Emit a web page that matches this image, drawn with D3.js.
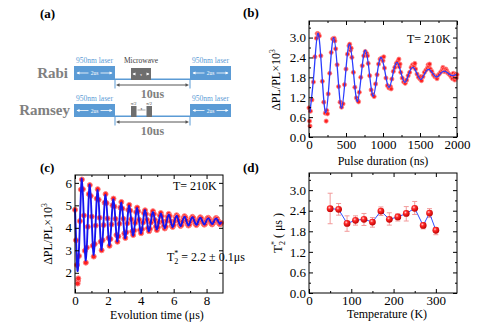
<!DOCTYPE html>
<html>
<head>
<meta charset="utf-8">
<script src="https://cdn.jsdelivr.net/npm/d3@7"></script>
<style>
body { margin: 0; background: #fff; }
svg { display: block; font-family: "Liberation Serif", "Times New Roman", serif; }
</style>
</head>
<body>
<svg id="fig" width="494" height="327"></svg>
<script>
// ---- (b) Rabi oscillation ----
var rabiTime = [0, 8, 14, 20, 40, 60, 80, 100, 110, 120, 130, 140, 160, 180, 200, 220, 232, 240, 250, 260,
  280, 300, 320, 340, 350, 360, 380, 400, 420, 440, 460, 480, 500, 520, 540, 550, 560, 570, 580, 600,
  620, 640, 660, 670, 680, 700, 720, 740, 760, 780, 790, 800, 820, 840, 860, 880, 900, 920, 940, 960,
  980, 1000, 1010, 1020, 1040, 1060, 1080, 1100, 1110, 1120, 1140, 1160, 1180, 1200, 1215, 1220, 1230, 1240, 1260, 1280,
  1300, 1310, 1320, 1340, 1360, 1380, 1400, 1410, 1420, 1430, 1440, 1460, 1480, 1500, 1510, 1520, 1540, 1560, 1580, 1600,
  1610, 1620, 1630, 1640, 1660, 1680, 1700, 1720, 1730, 1740, 1760, 1780, 1800, 1810, 1820, 1830, 1840, 1850, 1860, 1870,
  1880, 1900, 1920, 1940, 1950, 1960, 1970, 1980, 1990, 2000];
var rabiVal = [0.88, 0.48, 0.33, 0.78, 1.12, 1.66, 2.42, 2.98, 3.12, 3.12, 3.10, 3.05, 2.45, 1.68, 1.05, 0.72, 0.48, 0.80, 0.70, 1.30,
  1.92, 2.55, 2.96, 2.98, 2.90, 2.66, 2.18, 1.52, 1.05, 0.90, 1.00, 1.58, 2.05, 2.50, 2.75, 2.80, 2.62, 2.68, 2.40, 1.95,
  1.50, 1.18, 1.10, 1.06, 1.35, 1.80, 2.15, 2.45, 2.58, 2.52, 2.45, 2.22, 1.85, 1.42, 1.28, 1.22, 1.60, 1.88, 2.20, 2.35,
  2.38, 2.30, 2.42, 2.08, 1.78, 1.55, 1.48, 1.52, 1.45, 1.75, 1.98, 2.10, 2.22, 2.28, 2.35, 2.12, 2.20, 1.95, 1.78, 1.66,
  1.62, 1.70, 1.72, 1.85, 1.95, 2.10, 2.18, 2.12, 2.15, 2.22, 2.05, 1.90, 1.80, 1.75, 1.82, 1.70, 1.82, 1.95, 2.02, 2.08,
  2.18, 2.12, 2.20, 2.05, 1.98, 1.88, 1.82, 1.80, 1.76, 1.85, 1.90, 1.96, 2.02, 2.10, 2.05, 1.98, 1.97, 2.05, 2.00, 1.95,
  1.92, 1.88, 1.82, 1.76, 1.92, 1.85, 1.72, 1.90, 1.78, 1.88];
var rabiFitTime = [13, 67, 120, 174, 227, 281, 334, 388, 441, 495, 548, 602, 655, 709, 762, 816, 869, 923, 976, 1030,
  1083, 1137, 1190, 1244, 1297, 1351, 1404, 1458, 1511, 1565, 1618, 1672, 1725, 1779, 1832, 1886, 1939, 1993];
var rabiFitVal = [0.75, 1.93, 3.13, 1.93, 0.73, 1.93, 3.00, 1.93, 0.87, 1.93, 2.80, 1.93, 1.07, 1.93, 2.62, 1.93, 1.23, 1.93, 2.40, 1.93,
  1.50, 1.93, 2.25, 1.93, 1.65, 1.92, 2.10, 1.92, 1.74, 1.92, 2.04, 1.92, 1.81, 1.92, 1.99, 1.91, 1.85, 1.89];

// ---- (c) Ramsey fringes ----
var ramseyTime = [0, 0.06, 0.12, 0.18, 0.24, 0.30, 0.36,
  0.42, 0.48, 0.54, 0.60, 0.66, 0.72, 0.78, 0.84,
  0.90, 0.96, 1.02, 1.08, 1.14, 1.20, 1.26, 1.32,
  1.38, 1.44, 1.50, 1.56, 1.62, 1.68, 1.74, 1.80,
  1.86, 1.92, 1.98, 2.04, 2.10, 2.16, 2.22, 2.28,
  2.34, 2.40, 2.46, 2.52, 2.58, 2.64, 2.70, 2.76,
  2.82, 2.88, 2.94, 3.00, 3.06, 3.12, 3.18, 3.24,
  3.30, 3.36, 3.42, 3.48, 3.54, 3.60, 3.66, 3.72,
  3.78, 3.84, 3.90, 3.96, 4.02, 4.08, 4.14, 4.20,
  4.26, 4.32, 4.38, 4.44, 4.50, 4.56, 4.62, 4.68,
  4.74, 4.80, 4.86, 4.92, 4.98, 5.04, 5.10, 5.16,
  5.22, 5.28, 5.34, 5.40, 5.46, 5.52, 5.58, 5.64,
  5.70, 5.76, 5.82, 5.88, 5.94, 6.00, 6.06, 6.12,
  6.18, 6.24, 6.30, 6.36, 6.42, 6.48, 6.54, 6.60,
  6.66, 6.72, 6.78, 6.84, 6.90, 6.96, 7.02, 7.08,
  7.14, 7.20, 7.26, 7.32, 7.38, 7.44, 7.50, 7.56,
  7.62, 7.68, 7.74, 7.80, 7.86, 7.92, 7.98, 8.04,
  8.10, 8.16, 8.22, 8.28, 8.34, 8.40, 8.46, 8.52,
  8.58, 8.64, 8.70, 8.76, 8.82, 8.88, 0.16, 0.20];
var ramseyVal = [4.80, 3.45, 2.35, 1.65, 2.75, 4.30, 5.70,
  6.15, 5.72, 4.55, 2.98, 2.45, 3.12, 4.05, 5.50,
  5.90, 5.42, 4.50, 3.20, 2.72, 3.28, 4.10, 5.30,
  5.72, 5.25, 4.45, 3.38, 3.00, 3.45, 4.12, 5.12,
  5.50, 5.10, 4.42, 3.55, 3.20, 3.50, 4.15, 5.00,
  5.30, 4.95, 4.40, 3.68, 3.38, 3.62, 4.18, 4.90,
  5.15, 4.86, 4.40, 3.75, 3.55, 3.80, 4.20, 4.80,
  5.02, 4.77, 4.38, 3.84, 3.68, 3.88, 4.22, 4.70,
  4.90, 4.74, 4.36, 3.90, 3.76, 3.94, 4.24, 4.66,
  4.78, 4.62, 4.36, 3.98, 3.85, 3.95, 4.24, 4.58,
  4.74, 4.62, 4.35, 4.05, 3.90, 4.02, 4.25, 4.56,
  4.66, 4.52, 4.28, 4.08, 3.97, 4.05, 4.31, 4.50,
  4.62, 4.53, 4.29, 4.10, 4.04, 4.12, 4.30, 4.47,
  4.56, 4.50, 4.31, 4.15, 4.08, 4.12, 4.28, 4.44,
  4.52, 4.46, 4.32, 4.17, 4.10, 4.15, 4.29, 4.42,
  4.49, 4.44, 4.30, 4.18, 4.12, 4.19, 4.31, 4.40,
  4.47, 4.42, 4.28, 4.20, 4.14, 4.18, 4.31, 4.41,
  4.45, 4.39, 4.30, 4.20, 4.15, 4.21, 4.29, 4.38,
  4.44, 4.40, 4.31, 4.20, 4.16, 4.22, 1.52, 1.75];
var ramseyFitTime = [0, 0.08, 0.17, 0.30, 0.42, 0.54, 0.66, 0.78, 0.90, 1.02, 1.14, 1.26, 1.38, 1.50, 1.62, 1.74, 1.86, 1.98,
  2.10, 2.22, 2.34, 2.46, 2.58, 2.70, 2.82, 2.94, 3.06, 3.18, 3.30, 3.42, 3.54, 3.66, 3.78, 3.90, 4.02, 4.14,
  4.26, 4.38, 4.50, 4.62, 4.74, 4.86, 4.98, 5.10, 5.22, 5.34, 5.46, 5.58, 5.70, 5.82, 5.94, 6.06, 6.18, 6.30,
  6.42, 6.54, 6.66, 6.78, 6.90, 7.02, 7.14, 7.26, 7.38, 7.50, 7.62, 7.74, 7.86, 7.98, 8.10, 8.22, 8.34, 8.46,
  8.58, 8.70, 8.82, 8.90];
var ramseyFitVal = [4.85, 3.20, 2.10, 4.25, 6.20, 4.30, 2.55, 4.30, 5.92, 4.30, 2.80, 4.30, 5.68, 4.30, 3.02, 4.30, 5.46, 4.30,
  3.22, 4.30, 5.27, 4.30, 3.40, 4.30, 5.12, 4.30, 3.54, 4.30, 4.99, 4.30, 3.66, 4.30, 4.88, 4.30, 3.75, 4.30,
  4.79, 4.30, 3.84, 4.30, 4.71, 4.30, 3.92, 4.30, 4.64, 4.30, 3.98, 4.30, 4.59, 4.30, 4.03, 4.30, 4.54, 4.30,
  4.07, 4.30, 4.50, 4.30, 4.10, 4.30, 4.47, 4.30, 4.13, 4.30, 4.45, 4.30, 4.15, 4.30, 4.43, 4.30, 4.16, 4.30,
  4.42, 4.30, 4.17, 4.27];

// ---- (d) T2* vs temperature ----
var tempK = [50, 70, 90, 110, 130, 150, 170, 190, 210, 230, 250, 270, 285, 300];
var t2Star = [2.46, 2.44, 2.03, 2.12, 2.15, 2.07, 2.39, 2.15, 2.22, 2.32, 2.47, 1.97, 2.33, 1.83];
var t2Low = [2.02, 2.27, 1.80, 1.98, 1.97, 1.92, 2.26, 1.98, 2.10, 2.10, 2.29, 1.87, 2.20, 1.70];
var t2High = [2.91, 2.61, 2.25, 2.25, 2.32, 2.20, 2.51, 2.34, 2.31, 2.52, 2.67, 2.05, 2.46, 1.90];

var svg = d3.select("#fig");
var defs = svg.append("defs");
var grad = defs.append("radialGradient").attr("id", "ball")
  .attr("cx", "38%").attr("cy", "35%").attr("r", "65%");
grad.append("stop").attr("offset", "0%").attr("stop-color", "#ffd0d0");
grad.append("stop").attr("offset", "35%").attr("stop-color", "#ff2a2a");
grad.append("stop").attr("offset", "100%").attr("stop-color", "#c00000");

// frame with inward ticks on all four sides
function makePanel(o) {
  var x = d3.scaleLinear().domain(o.xd).range([o.left, o.right]);
  var y = d3.scaleLinear().domain(o.yd).range([o.bottom, o.top]);
  var g = svg.append("g");
  var axes = svg.append("g");

  function put(axis, tx, ty) {
    var a = axes.append("g").attr("transform", "translate(" + tx + "," + ty + ")").call(axis);
    a.select(".domain").remove();
    a.selectAll("line").attr("stroke", "#000");
    a.selectAll("text").attr("font-size", 13).attr("font-family", "Liberation Serif").attr("fill", "#000");
    return a;
  }
  put(d3.axisBottom(x).tickValues(o.xt).tickFormat(o.xf).tickSizeInner(-4).tickSizeOuter(0).tickPadding(3), 0, o.bottom);
  put(d3.axisTop(x).tickValues(o.xt).tickFormat("").tickSizeInner(-4).tickSizeOuter(0), 0, o.top);
  put(d3.axisLeft(y).tickValues(o.yt).tickFormat(o.yf).tickSizeInner(-4).tickSizeOuter(0).tickPadding(3), o.left, 0);
  put(d3.axisRight(y).tickValues(o.yt).tickFormat("").tickSizeInner(-4).tickSizeOuter(0), o.right, 0);
  if (o.xm) {
    put(d3.axisBottom(x).tickValues(o.xm).tickFormat("").tickSizeInner(-2).tickSizeOuter(0), 0, o.bottom);
    put(d3.axisTop(x).tickValues(o.xm).tickFormat("").tickSizeInner(-2).tickSizeOuter(0), 0, o.top);
  }
  if (o.ym) {
    put(d3.axisLeft(y).tickValues(o.ym).tickFormat("").tickSizeInner(-2).tickSizeOuter(0), o.left, 0);
    put(d3.axisRight(y).tickValues(o.ym).tickFormat("").tickSizeInner(-2).tickSizeOuter(0), o.right, 0);
  }
  axes.append("rect").attr("x", o.left).attr("y", o.top)
    .attr("width", o.right - o.left).attr("height", o.bottom - o.top)
    .attr("fill", "none").attr("stroke", "#000").attr("stroke-width", 1);
  return { g: g, x: x, y: y };
}

function yLabel(cx, cy, size) {
  var t = svg.append("text").attr("transform", "translate(" + cx + "," + cy + ") rotate(-90)")
    .attr("text-anchor", "middle").attr("font-size", size);
  t.append("tspan").text("ΔPL/PL×10");
  t.append("tspan").attr("font-size", size * 0.65).attr("dy", -size * 0.4).text("3");
}

// ---------- panel (b) ----------
var pb = makePanel({
  left: 309, right: 457, top: 21, bottom: 137,
  xd: [0, 2000], yd: [0, 3.5],
  xt: [0, 500, 1000, 1500, 2000], xf: d3.format("d"),
  xm: [250, 750, 1250, 1750],
  yt: [0, 0.6, 1.2, 1.8, 2.4, 3.0], yf: d3.format(".1f"),
  ym: [0.3, 0.9, 1.5, 2.1, 2.7, 3.3]
});
pb.g.selectAll("circle").data(rabiTime).enter().append("circle")
  .attr("cx", function (d) { return pb.x(d); })
  .attr("cy", function (d, i) { return pb.y(rabiVal[i]); })
  .attr("r", 2.1).attr("fill", "#ff2020").attr("stroke", "#ff8a8a").attr("stroke-width", 0.8);
pb.g.append("path").datum(rabiFitTime)
  .attr("fill", "none").attr("stroke", "#2a3cff").attr("stroke-width", 1.3)
  .attr("d", d3.line().curve(d3.curveNatural)
    .x(function (d) { return pb.x(d); })
    .y(function (d, i) { return pb.y(rabiFitVal[i]); }));
svg.append("text").attr("x", 407).attr("y", 43).attr("font-size", 12).text("T= 210K");
yLabel(280, 80, 12);
svg.append("text").attr("x", 383).attr("y", 165).attr("text-anchor", "middle").attr("font-size", 12).text("Pulse duration (ns)");

// ---------- panel (c) ----------
var pc = makePanel({
  left: 75, right: 223, top: 175, bottom: 293,
  xd: [0, 9], yd: [1.1, 6.35],
  xt: [0, 2, 4, 6, 8], xf: d3.format("d"),
  xm: [1, 3, 5, 7],
  yt: [2, 3, 4, 5, 6], yf: d3.format("d")
});
pc.g.selectAll("circle").data(ramseyTime).enter().append("circle")
  .attr("cx", function (d) { return pc.x(d); })
  .attr("cy", function (d, i) { return pc.y(ramseyVal[i]); })
  .attr("r", 2.5).attr("fill", "#ff2020").attr("stroke", "#ff8080").attr("stroke-width", 1);
pc.g.append("path").datum(ramseyFitTime)
  .attr("fill", "none").attr("stroke", "#1414f0").attr("stroke-width", 1.9)
  .attr("d", d3.line().curve(d3.curveNatural)
    .x(function (d) { return pc.x(d); })
    .y(function (d, i) { return pc.y(ramseyFitVal[i]); }));
svg.append("text").attr("x", 173).attr("y", 190).attr("font-size", 12).text("T= 210K");
var t2t = svg.append("text").attr("x", 167).attr("y", 261).attr("font-size", 12);
t2t.append("tspan").text("T");
t2t.append("tspan").attr("font-size", 8).attr("dy", 3).text("2");
t2t.append("tspan").attr("font-size", 8).attr("dx", -4).attr("dy", -8).text("*");
t2t.append("tspan").attr("dy", 5).text(" = 2.2 ± 0.1μs");
yLabel(52, 234, 12);
svg.append("text").attr("x", 157).attr("y", 319).attr("text-anchor", "middle").attr("font-size", 12).text("Evolution time (μs)");

// ---------- panel (d) ----------
var pd = makePanel({
  left: 309, right: 457, top: 173, bottom: 293,
  xd: [0, 350], yd: [0, 3.5],
  xt: [0, 100, 200, 300], xf: d3.format("d"),
  xm: [50, 150, 250],
  yt: [0, 0.6, 1.2, 1.8, 2.4, 3.0], yf: d3.format(".1f"),
  ym: [0.3, 0.9, 1.5, 2.1, 2.7, 3.3]
});
var eb = pd.g.selectAll("g.err").data(tempK).enter().append("g").attr("class", "err")
  .attr("stroke", "#f29a9a").attr("stroke-width", 1);
eb.append("line")
  .attr("x1", function (d) { return pd.x(d); }).attr("x2", function (d) { return pd.x(d); })
  .attr("y1", function (d, i) { return pd.y(t2Low[i]); })
  .attr("y2", function (d, i) { return pd.y(t2High[i]); });
eb.append("line")
  .attr("x1", function (d) { return pd.x(d) - 2.5; }).attr("x2", function (d) { return pd.x(d) + 2.5; })
  .attr("y1", function (d, i) { return pd.y(t2Low[i]); })
  .attr("y2", function (d, i) { return pd.y(t2Low[i]); });
eb.append("line")
  .attr("x1", function (d) { return pd.x(d) - 2.5; }).attr("x2", function (d) { return pd.x(d) + 2.5; })
  .attr("y1", function (d, i) { return pd.y(t2High[i]); })
  .attr("y2", function (d, i) { return pd.y(t2High[i]); });
pd.g.append("path").datum(tempK)
  .attr("fill", "none").attr("stroke", "#3050ff").attr("stroke-width", 1)
  .attr("d", d3.line()
    .x(function (d) { return pd.x(d); })
    .y(function (d, i) { return pd.y(t2Star[i]); }));
pd.g.selectAll("circle").data(tempK).enter().append("circle")
  .attr("cx", function (d) { return pd.x(d); })
  .attr("cy", function (d, i) { return pd.y(t2Star[i]); })
  .attr("r", 3.4).attr("fill", "url(#ball)");
var dl = svg.append("text").attr("transform", "translate(282,233) rotate(-90)")
  .attr("text-anchor", "middle").attr("font-size", 13);
dl.append("tspan").text("T");
dl.append("tspan").attr("font-size", 8).attr("dy", 3).text("2");
dl.append("tspan").attr("font-size", 8).attr("dx", -4).attr("dy", -8).text("*");
dl.append("tspan").attr("font-size", 12).attr("dy", 5).text(" (  μs  )");
svg.append("text").attr("x", 387).attr("y", 318).attr("text-anchor", "middle").attr("font-size", 12).text("Temperature (K)");

// ---------- panel labels ----------
[["(a)", 40, 18], ["(b)", 243, 17], ["(c)", 40, 172], ["(d)", 243, 172]].forEach(function (p) {
  svg.append("text").attr("x", p[1]).attr("y", p[2]).attr("font-size", 13).attr("font-weight", "bold").text(p[0]);
});

// ---------- panel (a): pulse sequences ----------
var blue = "#5b9bd5", grey = "#6e6e6e";
var seq = svg.append("g");
function whiteArrow(x1, x2, y, label, size) {
  var mid = (x1 + x2) / 2;
  seq.append("line").attr("x1", x1 + 1).attr("x2", mid - 6).attr("y1", y).attr("y2", y).attr("stroke", "#fff").attr("stroke-width", 0.8);
  seq.append("line").attr("x1", mid + 6).attr("x2", x2 - 1).attr("y1", y).attr("y2", y).attr("stroke", "#fff").attr("stroke-width", 0.8);
  seq.append("path").attr("d", "M" + (x1 + 0.5) + "," + y + "l3,-1.6v3.2z").attr("fill", "#fff");
  seq.append("path").attr("d", "M" + (x2 - 0.5) + "," + y + "l-3,-1.6v3.2z").attr("fill", "#fff");
  seq.append("text").attr("x", mid).attr("y", y + 2).attr("text-anchor", "middle").attr("font-size", size).attr("fill", "#fff").text(label);
}
function row(top, bottom, name, nameX, isRamsey) {
  seq.append("text").attr("x", nameX).attr("y", bottom - 2).attr("text-anchor", "end")
    .attr("font-size", 15).attr("font-weight", "bold").attr("fill", "#808080").text(name);
  [[74, 115], [190, 231]].forEach(function (b) {
    seq.append("rect").attr("x", b[0]).attr("y", top).attr("width", b[1] - b[0]).attr("height", bottom - top).attr("fill", blue);
    whiteArrow(b[0] + 2, b[1] - 2, (top + bottom) / 2, "2us", 5.5);
    seq.append("text").attr("x", (b[0] + b[1]) / 2).attr("y", top - 3).attr("text-anchor", "middle")
      .attr("font-size", 7.5).attr("fill", blue).text("950nm laser");
  });
  seq.append("line").attr("x1", 115).attr("x2", 190).attr("y1", bottom - 0.7).attr("y2", bottom - 0.7).attr("stroke", blue).attr("stroke-width", 1.4);
  if (!isRamsey) {
    seq.append("rect").attr("x", 131).attr("y", top + 2).attr("width", 20).attr("height", bottom - top - 2).attr("fill", grey);
    whiteArrow(132, 150, (top + bottom) / 2 + 1, "τ", 5);
    seq.append("text").attr("x", 141).attr("y", top - 3).attr("text-anchor", "middle").attr("font-size", 7.5).attr("fill", "#404040").text("Microwave");
  } else {
    [131, 146.5].forEach(function (px) {
      seq.append("rect").attr("x", px).attr("y", top + 2).attr("width", 5.5).attr("height", bottom - top - 2).attr("fill", grey);
      seq.append("text").attr("x", px + 2.7).attr("y", top + 0.5).attr("text-anchor", "middle").attr("font-size", 4.5).attr("fill", "#404040").text("π/2");
    });
    seq.append("line").attr("x1", 137.5).attr("x2", 145.5).attr("y1", top + 6).attr("y2", top + 6).attr("stroke", "#555").attr("stroke-width", 0.5);
    seq.append("text").attr("x", 141.5).attr("y", top + 5.5).attr("text-anchor", "middle").attr("font-size", 4.5).attr("fill", "#404040").text("τ");
  }
  // 10us span
  var ay = bottom + 5;
  seq.append("line").attr("x1", 115).attr("x2", 115).attr("y1", bottom).attr("y2", ay + 3.5).attr("stroke", blue).attr("stroke-width", 1);
  seq.append("line").attr("x1", 190).attr("x2", 190).attr("y1", bottom).attr("y2", ay + 3.5).attr("stroke", blue).attr("stroke-width", 1);
  seq.append("line").attr("x1", 118).attr("x2", 187).attr("y1", ay).attr("y2", ay).attr("stroke", "#555").attr("stroke-width", 1);
  seq.append("path").attr("d", "M116," + ay + "l3.5,-1.8v3.6z").attr("fill", "#555");
  seq.append("path").attr("d", "M189," + ay + "l-3.5,-1.8v3.6z").attr("fill", "#555");
  seq.append("text").attr("x", 152.5).attr("y", ay + 13).attr("text-anchor", "middle")
    .attr("font-size", 12).attr("font-weight", "bold").attr("fill", "#808080").text("10us");
}
row(66, 80, "Rabi", 68, false);
row(104, 117, "Ramsey", 70, true);
</script>
</body>
</html>
